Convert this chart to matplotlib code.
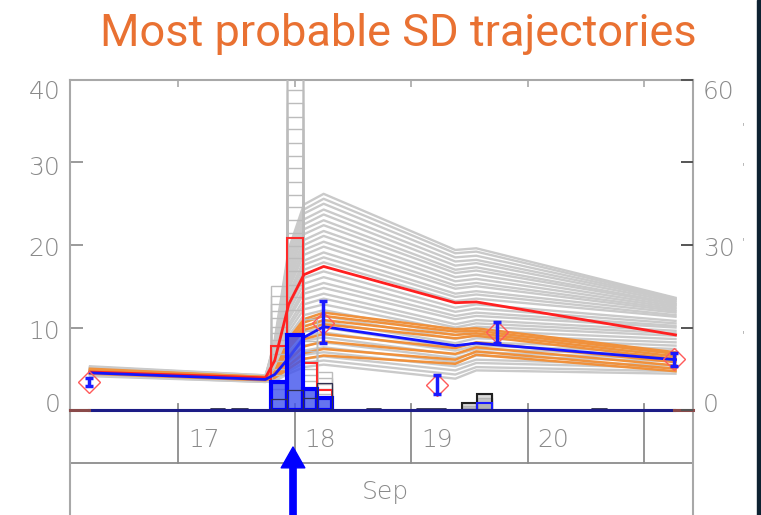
import matplotlib
matplotlib.use("Agg")
import matplotlib.pyplot as plt
import matplotlib.transforms as mtransforms
from matplotlib.patches import Rectangle

# times (days of September) at which every trajectory is tabulated
node_days = [16.245, 17.75, 17.83, 17.95, 18.08, 18.25, 19.38, 19.56, 21.27]

# ensemble members (grey), one row per member
gray_runs = [
    [4.8, 3.9, 8.5, 19.5, 24.9, 26.2, 19.4, 19.6, 13.6],
    [5.1, 4.1, 8.2, 19.0, 24.3, 25.6, 19.0, 19.2, 13.5],
    [4.6, 3.8, 8.0, 18.6, 23.8, 25.0, 18.5, 18.7, 13.4],
    [4.9, 4.0, 7.8, 18.0, 23.1, 24.3, 18.0, 18.2, 13.3],
    [5.2, 4.2, 7.6, 17.6, 22.5, 23.7, 17.5, 17.8, 13.1],
    [4.4, 3.6, 7.3, 17.0, 21.9, 23.0, 17.0, 17.3, 12.9],
    [4.7, 3.8, 7.1, 16.6, 21.3, 22.4, 16.6, 16.9, 12.8],
    [5.0, 4.0, 6.9, 16.1, 20.6, 21.7, 16.1, 16.4, 12.6],
    [4.5, 3.7, 6.7, 15.6, 20.0, 21.1, 15.6, 15.9, 12.4],
    [4.8, 3.9, 6.5, 15.1, 19.4, 20.4, 15.1, 15.4, 12.2],
    [5.3, 4.2, 6.4, 14.7, 18.8, 19.8, 14.7, 15.0, 12.0],
    [4.3, 3.5, 6.1, 14.1, 18.1, 19.1, 14.1, 14.4, 11.8],
    [4.6, 3.8, 5.9, 13.7, 17.6, 18.5, 13.7, 14.0, 11.5],
    [4.9, 4.0, 5.7, 13.2, 17.0, 17.9, 13.2, 13.5, 11.3],
    [5.1, 4.1, 5.4, 12.4, 16.0, 16.8, 12.4, 12.8, 10.8],
    [4.4, 3.6, 5.2, 11.9, 15.3, 16.1, 11.9, 12.3, 10.5],
    [4.7, 3.9, 5.0, 11.4, 14.6, 15.4, 11.4, 11.8, 10.2],
    [5.0, 4.0, 4.9, 11.0, 14.1, 14.8, 11.0, 11.4, 10.0],
    [4.5, 3.7, 4.7, 10.4, 13.4, 14.1, 10.4, 10.9, 9.6],
    [4.8, 3.9, 4.6, 10.0, 12.8, 13.5, 10.0, 10.5, 9.3],
    [5.2, 4.1, 4.5, 9.5, 12.2, 12.8, 9.6, 10.1, 9.0],
    [4.3, 3.5, 4.2, 9.0, 11.5, 12.1, 9.1, 9.6, 8.6],
    [4.6, 3.8, 4.3, 8.4, 10.8, 11.4, 8.6, 9.1, 8.2],
    [4.9, 4.0, 4.4, 7.9, 10.2, 10.7, 8.1, 8.7, 7.8],
    [4.4, 3.6, 4.1, 7.4, 9.5, 10.0, 7.6, 8.2, 7.4],
    [4.7, 3.8, 4.2, 7.0, 8.9, 9.4, 7.2, 7.8, 7.0],
    [5.0, 4.0, 4.3, 6.5, 8.4, 8.8, 6.7, 7.4, 6.6],
    [4.5, 3.7, 4.0, 6.1, 7.8, 8.2, 6.3, 7.0, 6.2],
    [4.8, 3.9, 4.1, 5.7, 7.2, 7.6, 5.8, 6.6, 5.9],
    [4.2, 3.4, 3.8, 5.3, 6.7, 7.0, 5.3, 6.1, 5.4],
    [4.6, 3.7, 3.9, 5.0, 6.2, 6.5, 4.8, 5.7, 5.1],
    [4.3, 3.5, 3.7, 4.7, 5.7, 6.0, 4.3, 5.2, 4.7],
    [4.1, 3.4, 3.5, 4.4, 5.2, 5.5, 3.8, 4.8, 4.4],
]

# most probable members (orange)
orange_runs = [
    [5.0, 4.0, 4.6, 8.6, 11.0, 11.8, 9.8, 9.9, 7.0],
    [4.8, 3.9, 4.5, 8.2, 10.6, 11.4, 9.5, 9.6, 6.8],
    [4.9, 4.0, 4.4, 7.9, 10.1, 10.9, 9.1, 9.3, 6.5],
    [4.6, 3.8, 4.3, 7.5, 9.7, 10.4, 8.7, 9.0, 6.2],
    [4.7, 3.8, 4.2, 6.6, 8.6, 9.2, 7.5, 8.2, 5.8],
    [4.5, 3.7, 4.1, 6.0, 7.7, 8.3, 6.8, 7.6, 5.4],
    [4.6, 3.7, 4.0, 5.4, 6.9, 7.4, 6.1, 7.1, 5.0],
    [4.4, 3.6, 3.9, 5.0, 6.2, 6.6, 5.6, 6.7, 4.7],
]

red_run = [4.6, 3.9, 6.0, 12.8, 16.4, 17.4, 13.0, 13.1, 9.1]
blue_run = [4.5, 3.7, 4.3, 6.3, 8.8, 10.1, 7.8, 8.1, 6.1]

# precipitation histograms, main event
bin_edges = [17.796, 17.933, 18.076, 18.19, 18.325]
gray_hist = [
    [15.0, 13.8, 12.9, 12.0, 11.2, 10.1, 9.3, 8.5, 7.6, 6.8, 5.9, 5.0, 4.2, 3.3, 2.5],
    [48.0, 45.0, 42.0, 40.5, 38.8, 37.2, 35.5, 34.0, 32.4, 30.8, 29.3, 27.6,
     26.1, 24.6, 23.0, 21.5, 19.9, 18.4, 16.8, 15.2, 13.7, 12.1],
    [11.0, 9.6, 8.4, 7.1, 6.0, 5.0, 4.2, 3.5],
    [4.6, 3.9, 3.2, 2.6, 2.0],
]
red_hist = [7.7, 20.8, 5.7, 2.4]
black_hist = [1.3, 2.4, 1.5, 3.3]
blue_hist = [3.4, 9.1, 2.6, 1.4]

# second, smaller event
bin_edges_2 = [19.435, 19.564, 19.693]
gray_hist_2 = [[0.8, 0.5, 0.3], [1.9, 1.4, 1.0]]
black_hist_2 = [0.8, 1.9]
blue_hist_2 = [0.0, 0.85]

# tiny traces along the zero line
trace_start = [17.28, 17.46, 18.62, 19.05, 20.55]
trace_end = [17.40, 17.60, 18.74, 19.30, 20.68]
trace_level = [0.15, 0.12, 0.10, 0.12, 0.10]

# observations with uncertainty
obs_days = [16.236, 18.245, 19.226, 19.741, 21.26]
obs_value = [3.4, 10.5, 3.0, 9.5, 6.2]
obs_low = [2.9, 8.1, 1.9, 8.1, 5.3]
obs_high = [3.9, 13.2, 4.2, 10.7, 6.9]

day_ticks = [17, 18, 19, 20, 21]
day_labels = ["17", "18", "19", "20"]
month_label = "Sep"
left_ticks = [0, 10, 20, 30, 40]
right_ticks = [0, 15, 30, 45, 60]
right_labels = ["0", "", "30", "", "60"]

GREY_TXT = "#8a8a8a"
LINE_GREY = "#a8a8a8"
tick_font = dict(family="DejaVu Sans", weight="light", size=18, color=GREY_TXT)

fig = plt.figure(figsize=(7.61, 5.15), dpi=100)
ax = fig.add_axes([70 / 761, 1 - 410 / 515, 623 / 761, 330 / 515])
ax.set_xlim(16.073, 21.42)
ax.set_ylim(0, 40)

for run in gray_runs:
    ax.plot(node_days, run, color="#cacaca", lw=1.7, zorder=2, solid_joinstyle="round")
for run in orange_runs:
    ax.plot(node_days, run, color="#f0913c", lw=1.8, zorder=3)

# grey member histograms, outlines only
for left, right, heights in zip(bin_edges[:-1], bin_edges[1:], gray_hist):
    ax.bar([left] * len(heights), heights, width=right - left, align="edge",
           facecolor="none", edgecolor="#bcbcbc", lw=1.0, zorder=4)
for left, right, heights in zip(bin_edges_2[:-1], bin_edges_2[1:], gray_hist_2):
    ax.bar([left] * len(heights), heights, width=right - left, align="edge",
           facecolor=(0.6, 0.6, 0.6, 0.35), edgecolor="#b4b4b4", lw=1.0, zorder=4)

widths = [b - a for a, b in zip(bin_edges[:-1], bin_edges[1:])]
widths_2 = [b - a for a, b in zip(bin_edges_2[:-1], bin_edges_2[1:])]

ax.bar(bin_edges[:-1], red_hist, width=widths, align="edge", fill=False,
       edgecolor="#ff2a2a", lw=1.5, zorder=5)
ax.bar(bin_edges[:-1], blue_hist, width=widths, align="edge",
       facecolor=(0.25, 0.32, 0.93, 0.8), edgecolor="#0000ff", lw=3, zorder=6)
ax.bar(bin_edges[:-1], black_hist, width=widths, align="edge", fill=False,
       edgecolor="#303050", lw=0.9, zorder=6.5)
ax.bar(bin_edges_2[:-1], black_hist_2, width=widths_2, align="edge", fill=False,
       edgecolor="#202020", lw=1.5, zorder=5)
ax.bar(bin_edges_2[:-1], blue_hist_2, width=widths_2, align="edge", fill=False,
       edgecolor="#1a1aff", lw=1.5, zorder=5.5)

ax.plot(node_days, red_run, color="#ff2020", lw=2.0, zorder=5.2)
ax.plot(node_days, blue_run, color="#1515ff", lw=2.0, zorder=5.3)

for a, b, lev in zip(trace_start, trace_end, trace_level):
    ax.plot([a, a, b, b], [0, lev, lev, 0], color="#202040", lw=1.2, zorder=6)

# zero line of the histograms
ax.plot([obs_days[0], obs_days[-1]], [0, 0], color="#1c1c86", lw=2.2,
        clip_on=False, zorder=7)
ax.plot([16.073, obs_days[0]], [0, 0], color="#8a4a4a", lw=2.2, clip_on=False, zorder=7)
ax.plot([obs_days[-1], 21.42], [0, 0], color="#8a4a4a", lw=2.2, clip_on=False, zorder=7)

yerr = [[v - lo for v, lo in zip(obs_value, obs_low)],
        [hi - v for v, hi in zip(obs_value, obs_high)]]
ax.plot(obs_days, obs_value, "D", ms=11, mfc="none", mec="#ff5a5a", mew=1.0, zorder=8)
ax.errorbar(obs_days, obs_value, yerr=yerr, fmt="none", ecolor="#1a1aff",
            elinewidth=2.5, capsize=3, capthick=2.5, zorder=9)

# axes styling
for side in ["left", "top", "right", "bottom"]:
    ax.spines[side].set_color(LINE_GREY)
    ax.spines[side].set_linewidth(1.5)
ax.set_xticks(day_ticks)
ax.tick_params(axis="x", bottom=False, top=True, labelbottom=False,
               direction="in", length=5, width=1.2, color=LINE_GREY)
ax.set_yticks(left_ticks)
ax.tick_params(axis="y", direction="in", length=9, width=1.4, color="#9a9a9a", pad=7)
for lab in ax.get_yticklabels():
    lab.set(**tick_font)

ax2 = ax.twinx()
ax2.set_ylim(0, 60)
ax2.set_yticks(right_ticks)
ax2.set_yticklabels(right_labels)
ax2.tick_params(axis="y", direction="in", length=9, width=1.4, color="#555555", pad=7)
for side in ["left", "top", "right", "bottom"]:
    ax2.spines[side].set_visible(False)
for lab in ax2.get_yticklabels():
    lab.set(**tick_font)

# nudge the end labels the way they sit on the frame
def shift(label, dy_px):
    label.set_transform(label.get_transform() +
                        mtransforms.ScaledTranslation(0, dy_px / 100, fig.dpi_scale_trans))

for lab, dy in zip(ax.get_yticklabels(), [8, -2, -2, -3, -10]):
    shift(lab, dy)
for lab, dy in zip(ax2.get_yticklabels(), [8, 0, -2, 0, -10]):
    shift(lab, dy)

# date band under the plot
blend = mtransforms.blended_transform_factory(ax.transData, ax.transAxes)
row_y = -53 / 330
band_bottom = -105 / 330
for d in day_ticks:
    ax.plot([d, d], [0.018, row_y], transform=blend, color="#8c8c8c", lw=1.3,
            clip_on=False, zorder=1)
ax.plot([0, 1], [row_y, row_y], transform=ax.transAxes, color="#8c8c8c", lw=1.3,
        clip_on=False)
for xa in [0, 1]:
    ax.plot([xa, xa], [0, band_bottom], transform=ax.transAxes, color=LINE_GREY,
            lw=1.5, clip_on=False)
for d, lab in zip(day_ticks, day_labels):
    ax.text(d + 0.085, -30 / 330, lab, transform=blend, ha="left", va="center",
            **tick_font)
ax.text(0.506, -82 / 330, month_label, transform=ax.transAxes, ha="center",
        va="center", **tick_font)

ax.annotate("", xy=(17.987, -37 / 330), xycoords=blend,
            xytext=(17.987, band_bottom - 0.02), textcoords=blend,
            arrowprops=dict(facecolor="#0000ff", edgecolor="#0000ff", width=4.5,
                            headwidth=17, headlength=15, shrink=0),
            annotation_clip=False)

for ypx in [127, 167, 242, 335]:
    fig.text(743 / 761, 1 - ypx / 515, "'", fontsize=8, color="#b0b0b0",
             ha="center", va="center")

fig.text(398 / 761, 1 - 46 / 515, "Most probable SD trajectories", ha="center",
         va="baseline", fontsize=32.5, color="#E97132", family="Roboto")

fig.add_artist(Rectangle((757 / 761, 0), 4 / 761, 1, transform=fig.transFigure,
                         color="#0e2232", zorder=10))

fig.savefig("out.png", dpi=100)
